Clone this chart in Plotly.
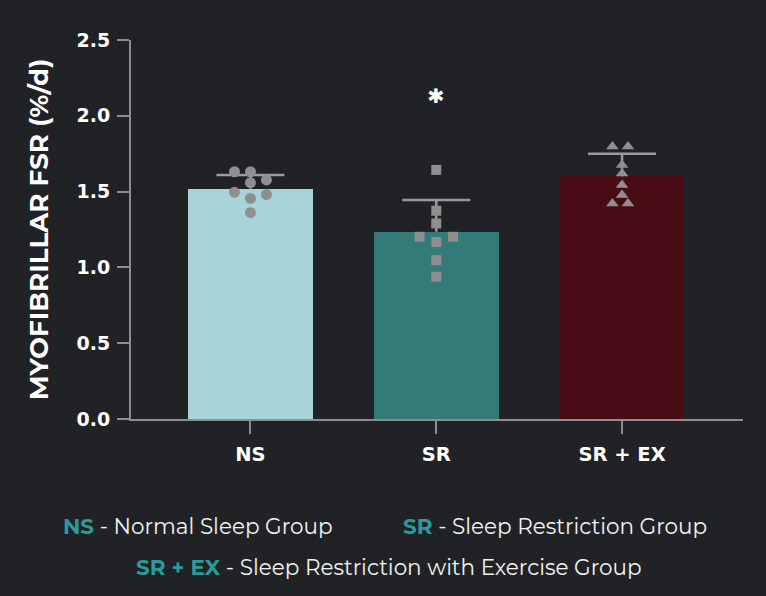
import plotly.graph_objects as go

categories = ["NS", "SR", "SR + EX"]
means = [1.52, 1.235, 1.60]
sem_upper = [0.09, 0.21, 0.15]
bar_colors = ["#a7d4d8", "#347a78", "#4a0c14"]

ns_points = [1.631, 1.631, 1.577, 1.559, 1.495, 1.481, 1.455, 1.361]
ns_offsets = [-0.086, 0.0, 0.086, 0.0, -0.086, 0.086, 0.0, 0.0]
sr_points = [1.643, 1.374, 1.29, 1.202, 1.202, 1.167, 1.048, 0.938]
sr_offsets = [0.0, 0.0, 0.0, -0.09, 0.09, 0.0, 0.0, 0.0]
srex_points = [1.797, 1.797, 1.676, 1.62, 1.544, 1.478, 1.422, 1.422]
srex_offsets = [-0.052, 0.032, 0.0, 0.0, 0.0, 0.0, -0.052, 0.032]

y_ticks = [0.0, 0.5, 1.0, 1.5, 2.0, 2.5]
y_title = "MYOFIBRILLAR FSR (%/d)"
sig_label = "*"
sig_value = 2.139

legend_rows = [
    [("NS", "Normal Sleep Group"), ("SR", "Sleep Restriction Group")],
    [("SR + EX", "Sleep Restriction with Exercise Group")],
]

bg = "#212226"
axis_col = "#8e8e8e"
err_col = "#9b9b9b"
pt_col = "#8f8f8f"
teal = "#2a9a9b"
font_fam = "Montserrat, 'Open Sans', Inter, sans-serif"
tick_fam = "'DejaVu Sans', 'Open Sans', sans-serif"

xs = list(range(len(categories)))
cap_half = 0.183

fig = go.Figure()
fig.add_trace(go.Bar(
    x=xs, y=means, width=0.67,
    marker=dict(color=bar_colors, line=dict(width=0)),
    showlegend=False, hoverinfo="skip",
))

# upper-only error bars built from the data
ex, ey = [], []
for i, (m, s) in enumerate(zip(means, sem_upper)):
    ex += [i, i, None, i - cap_half, i + cap_half, None]
    ey += [m, m + s, None, m + s, m + s, None]
fig.add_trace(go.Scatter(
    x=ex, y=ey, mode="lines", line=dict(color=err_col, width=2.5),
    showlegend=False, hoverinfo="skip",
))

for i, (pts, offs, sym, sz) in enumerate([
    (ns_points, ns_offsets, "circle", 11),
    (sr_points, sr_offsets, "square", 10),
    (srex_points, srex_offsets, "triangle-up", 11),
]):
    fig.add_trace(go.Scatter(
        x=[i + o for o in offs], y=pts, mode="markers",
        marker=dict(symbol=sym, size=sz, color=pt_col, line=dict(width=0)),
        showlegend=False, hoverinfo="skip",
    ))

fig.add_annotation(x=1, y=sig_value, text=f"<b>{sig_label}</b>", showarrow=False,
                   font=dict(size=36, color="white", family=font_fam),
                   xref="x", yref="y", yanchor="middle", yshift=-8)

row_y = [-0.282, -0.39]
row_x = [[0.11, 0.692], [0.4216]]
for r, row in enumerate(legend_rows):
    for j, (abbr, desc) in enumerate(row):
        fig.add_annotation(
            x=row_x[r][j], y=row_y[r], xref="paper", yref="paper",
            text=f"<b><span style='color:{teal}'>{abbr}</span></b> - {desc}",
            showarrow=False, xanchor="center", yanchor="middle",
            font=dict(size=21.5, color="#f2f2f2", family=font_fam),
        )

fig.update_layout(
    width=766, height=596,
    paper_bgcolor=bg, plot_bgcolor=bg,
    margin=dict(l=131, r=23, t=39.5, b=177),
    bargap=0,
    font=dict(family=font_fam, color="white"),
)
fig.update_xaxes(
    range=[-0.643, 2.651], tickmode="array", tickvals=xs, ticktext=categories,
    showline=True, linecolor=axis_col, linewidth=2, ticks="outside",
    ticklen=13, tickwidth=2, tickcolor=axis_col, showgrid=False, zeroline=False,
    ticklabelstandoff=4,
    tickfont=dict(size=19.5, color="white", family=tick_fam, weight="bold"),
)
fig.update_yaxes(
    range=[0, 2.5], tickvals=y_ticks, ticktext=[f"{v:.1f}" for v in y_ticks],
    showline=True, linecolor=axis_col, linewidth=2, ticks="outside",
    ticklen=12, tickwidth=2, tickcolor=axis_col, showgrid=False, zeroline=False,
    ticklabelstandoff=3,
    tickfont=dict(size=19, color="white", family=tick_fam, weight="bold"),
    title=dict(text=y_title, standoff=20,
               font=dict(size=26, color="white", family=font_fam, weight="bold")),
)

fig.write_html(
    "out.html",
    config={"displayModeBar": False},
    post_script="document.body.style.margin='0';document.body.style.padding='0';"
                "document.documentElement.style.background='#212226';",
)
